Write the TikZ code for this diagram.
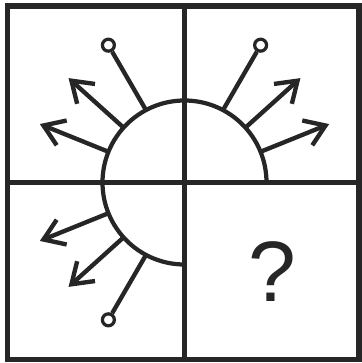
\documentclass[tikz,border=0pt]{standalone}
\usepackage{fontspec}
\setmainfont{Liberation Sans}
\usetikzlibrary{arrows.meta}
\definecolor{inkgray}{HTML}{262626}

\begin{document}
\begin{tikzpicture}[x=0.025cm, y=0.025cm,
  grid/.style={line width=3.9pt, color=inkgray},
  rim/.style={line width=3pt, color=inkgray},
  spoke/.style={line width=3.1pt, color=inkgray},
  ray/.style={spoke, -{Straight Barb[length=14pt, width=19pt]}},
  knob/.style={circle, draw=inkgray, fill=white, line width=2.3pt,
               minimum size=8.5pt, inner sep=0pt}
]
  \useasboundingbox (-184.5,-180.5) rectangle (177.5,182.5);

  % ── quadrant grid ───────────────────────────────────────────────────────
  \draw[grid] (-177,-177) rectangle (174.5,176.5);
  \draw[grid] (0,-177) -- (0,176.5);
  \draw[grid] (-177,0) -- (174.5,0);

  % ── three quarters of the disc ──────────────────────────────────────────
  \draw[rim] (82,0) arc[start angle=0, end angle=270, radius=82];

  % ── top right ───────────────────────────────────────────────────────────
  \coordinate (tr1) at (22:82);  \coordinate (tr1e) at (22:156);
  \coordinate (tr2) at (42:82);  \coordinate (tr2e) at (42:156);
  \coordinate (tr3) at (62:82);
  \node[knob] (trk) at (61:157) {};
  \draw[ray]   (tr1) -- (tr1e);
  \draw[ray]   (tr2) -- (tr2e);
  \draw[spoke] (tr3) -- (trk);

  % ── top left ────────────────────────────────────────────────────────────
  \coordinate (tl1) at (158:82); \coordinate (tl1e) at (158:156);
  \coordinate (tl2) at (138:82); \coordinate (tl2e) at (138:156);
  \coordinate (tl3) at (118:82);
  \node[knob] (tlk) at (119:157) {};
  \draw[ray]   (tl1) -- (tl1e);
  \draw[ray]   (tl2) -- (tl2e);
  \draw[spoke] (tl3) -- (tlk);

  % ── bottom left ─────────────────────────────────────────────────────────
  \coordinate (bl1) at (202:82); \coordinate (bl1e) at (202:156);
  \coordinate (bl2) at (222:82); \coordinate (bl2e) at (222:156);
  \coordinate (bl3) at (242:82);
  \node[knob] (blk) at (241:157) {};
  \draw[ray]   (bl1) -- (bl1e);
  \draw[ray]   (bl2) -- (bl2e);
  \draw[spoke] (bl3) -- (blk);

  % ── bottom right: the missing piece ─────────────────────────────────────
  \node[font=\fontsize{61}{61}\selectfont, text=inkgray] (qm) at (88,-89) {?};
\end{tikzpicture}
\end{document}
